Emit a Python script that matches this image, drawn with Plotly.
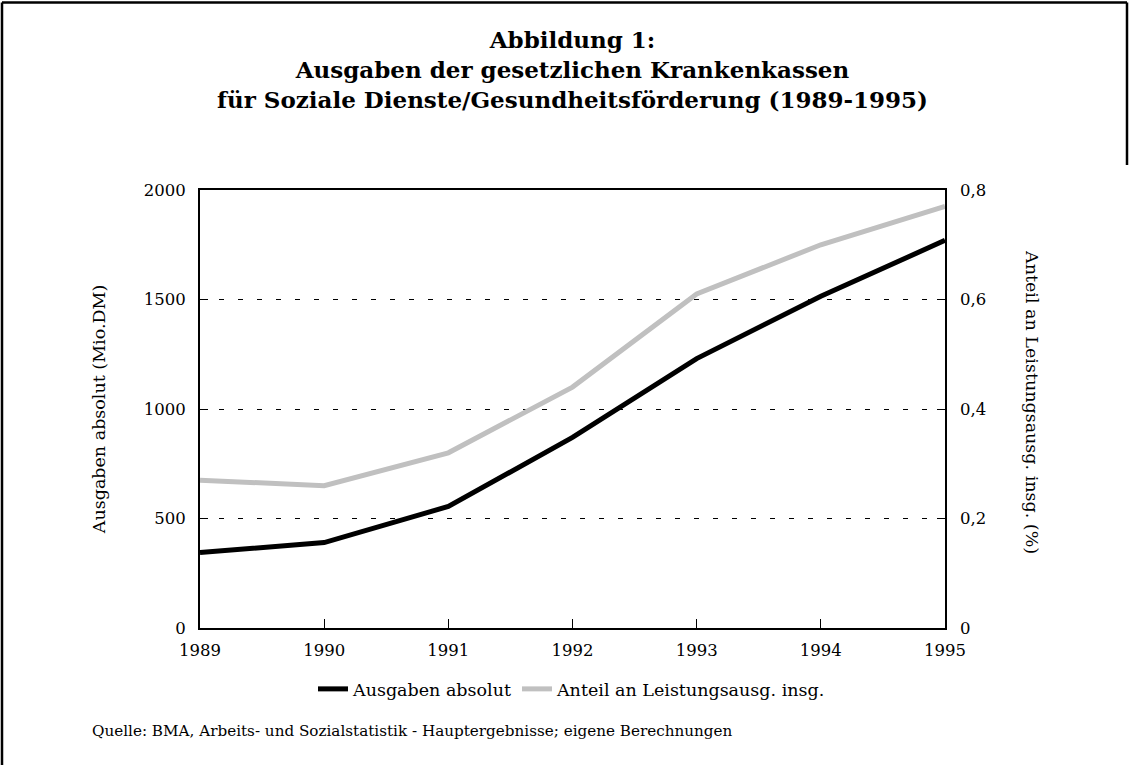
import plotly.graph_objects as go

years = [1989, 1990, 1991, 1992, 1993, 1994, 1995]
ausgaben_absolut = [345, 390, 555, 870, 1230, 1515, 1770]
anteil_leistungsausg = [0.27, 0.26, 0.32, 0.44, 0.61, 0.70, 0.77]

W, H = 1129, 765
L, R, T, B = 200, 184, 190, 137
PW, PH = W - L - R, H - T - B

def px(x):
    return (x - L) / PW

def py(y):
    return (H - B - y) / PH

TICK_FONT = dict(family="DejaVu Serif", size=16.5, color="black")

fig = go.Figure()
fig.add_trace(go.Scatter(x=years, y=ausgaben_absolut, mode="lines",
                         name="Ausgaben absolut",
                         line=dict(color="black", width=5)))
fig.add_trace(go.Scatter(x=years, y=anteil_leistungsausg, mode="lines",
                         name="Anteil an Leistungsausg. insg.",
                         line=dict(color="#c0c0c0", width=5), yaxis="y2"))

fig.update_layout(
    width=W, height=H,
    margin=dict(l=L, r=R, t=T, b=B),
    paper_bgcolor="white", plot_bgcolor="white",
    separators=",.",
    title=dict(
        text="<b>Abbildung 1:<br>Ausgaben der gesetzlichen Krankenkassen<br>"
             "für Soziale Dienste/Gesundheitsförderung (1989-1995)</b>",
        x=0.5, xref="paper", xanchor="center",
        y=1 - 48 / H, yref="container", yanchor="top",
        font=dict(family="DejaVu Serif", size=23, color="black"),
    ),
    xaxis=dict(
        range=[1989, 1995], tickmode="array", tickvals=years,
        ticktext=[str(y) for y in years],
        ticks="inside", ticklen=9, tickcolor="black", tickwidth=1,
        showline=True, linecolor="black", linewidth=2, mirror=True,
        showgrid=False, zeroline=False, tickfont=TICK_FONT,
        ticklabelstandoff=6,
    ),
    yaxis=dict(
        range=[0, 2000], tickvals=[0, 500, 1000, 1500, 2000],
        ticks="inside", ticklen=8, tickcolor="black",
        showline=True, linecolor="black", linewidth=2, mirror=True,
        showgrid=True, gridcolor="black", gridwidth=1, griddash="5px,14px",
        zeroline=False, tickfont=TICK_FONT, ticklabelstandoff=9,
        title=dict(text="Ausgaben absolut (Mio.DM)",
                   font=dict(family="DejaVu Serif", size=17.5, color="black"),
                   standoff=34),
    ),
    yaxis2=dict(
        range=[0, 0.8], tickvals=[0, 0.2, 0.4, 0.6, 0.8],
        overlaying="y", side="right",
        ticks="inside", ticklen=8, tickcolor="black",
        showline=False, showgrid=False, zeroline=False,
        tickfont=TICK_FONT, ticklabelstandoff=14,
    ),
    legend=dict(orientation="h", x=px(572), xanchor="center",
                y=py(689), yanchor="middle",
                font=dict(family="DejaVu Serif", size=17.5, color="black"),
                bgcolor="rgba(0,0,0,0)", tracegroupgap=0),
    showlegend=True,
)

fig.add_annotation(text="Anteil an Leistungsausg. insg. (%)", textangle=90,
                   xref="paper", yref="paper", x=px(1032), y=py(402),
                   xanchor="center", yanchor="middle", showarrow=False,
                   font=dict(family="DejaVu Serif", size=17.5, color="black"))
fig.add_annotation(text="Quelle: BMA, Arbeits- und Sozialstatistik - Hauptergebnisse; eigene Berechnungen",
                   xref="paper", yref="paper", x=px(90), y=py(731),
                   xanchor="left", yanchor="middle", showarrow=False,
                   font=dict(family="DejaVu Serif", size=15.2, color="black"))

# outer frame
frame = dict(type="line", xref="paper", yref="paper",
             line=dict(color="black", width=2.5))
fig.add_shape(**frame, x0=px(2), x1=px(1127), y0=py(2.5), y1=py(2.5))
fig.add_shape(**frame, x0=px(2), x1=px(2), y0=py(2.5), y1=py(765))
fig.add_shape(**frame, x0=px(1127), x1=px(1127), y0=py(2.5), y1=py(165))

fig.write_html("out.html",
               config={"displayModeBar": False},
               post_script="document.body.style.margin='0';")
